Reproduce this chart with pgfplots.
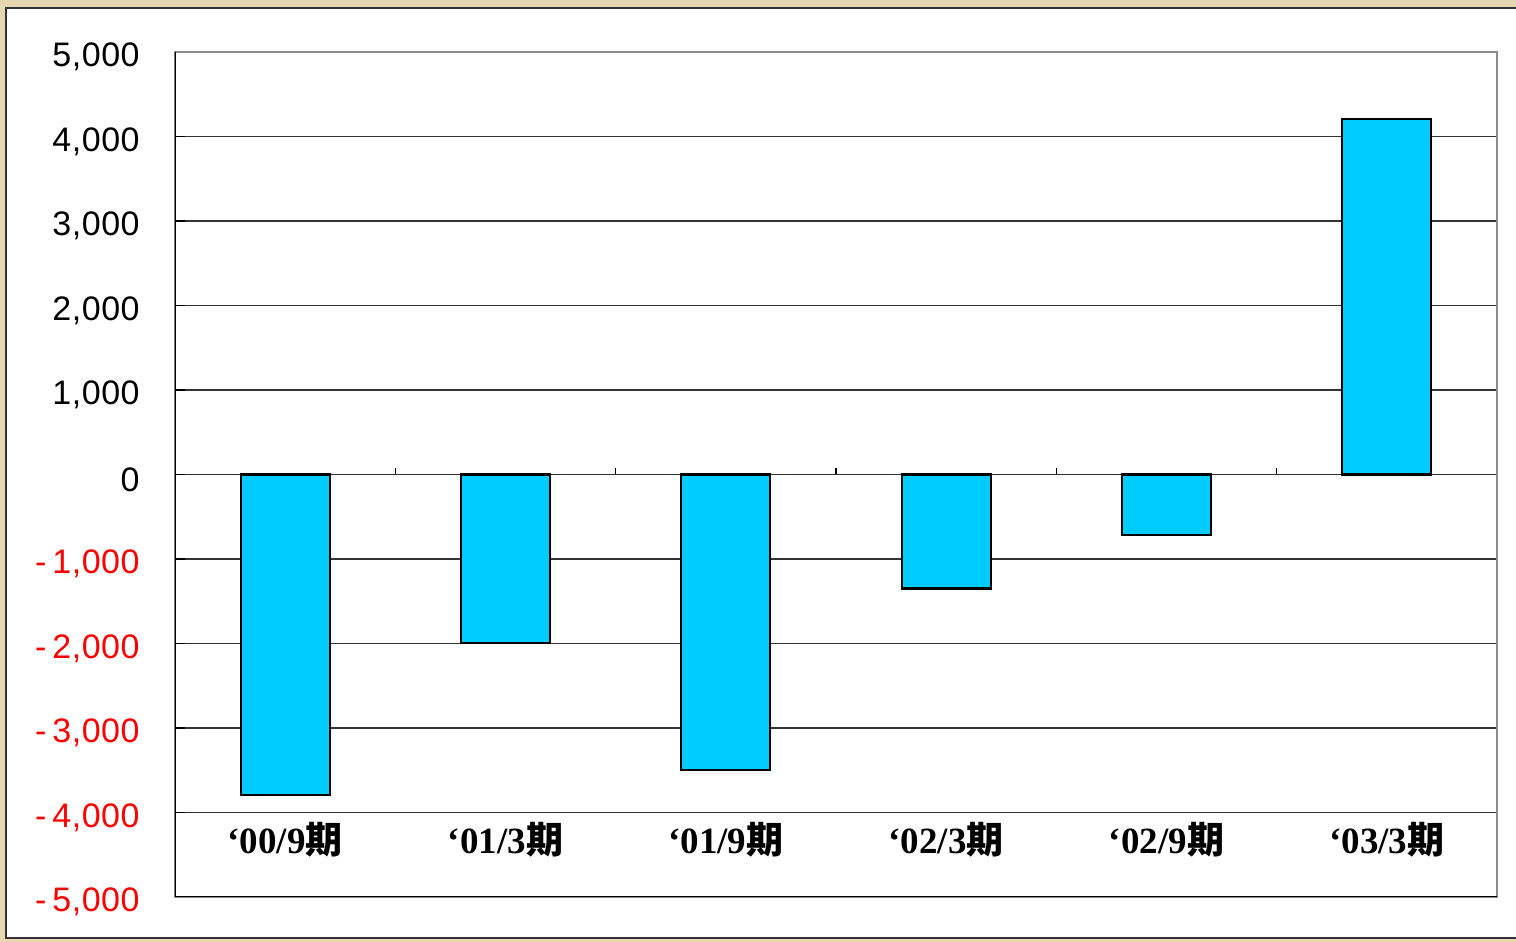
\documentclass[border=0pt]{standalone}
\usepackage{pgfplots}
\pgfplotsset{compat=1.18}
\usepackage{fontspec}
\setmainfont{Liberation Serif}
\newfontfamily\arialf{Liberation Sans}
\newfontfamily\cjk{Noto Sans CJK JP}
\definecolor{barblue}{HTML}{00CCFF}
\definecolor{beige}{HTML}{E6D6B2}
\newcommand{\lab}[1]{\bfseries ‘#1{\cjk\bfseries 期}}
\newcommand{\negl}[1]{\textcolor{red}{-\hspace{0.18em}#1}}
\begin{document}
\begin{tikzpicture}[x=1pt,y=1pt]
\clip (-87.5,-22.5) rectangle (670.5,448.5);
\fill[beige] (-87.5,-22.5) rectangle (670.5,448.5);
\filldraw[fill=white, draw=black!80, line width=1pt] (-84.5,-20.5) rectangle (690,444.5);
\begin{axis}[
  at={(0,0)}, anchor=south west, scale only axis,
  width=661pt, height=422.5pt,
  xmin=-0.5, xmax=5.5, ymin=-5000, ymax=5000,
  ytick={-5000,-4000,...,5000},
  yticklabels={{\negl{5,000}},{\negl{4,000}},{\negl{3,000}},{\negl{2,000}},{\negl{1,000}},{0},{1,000},{2,000},{3,000},{4,000},{5,000}},
  xtick={0,...,5},
  xticklabels={{\lab{00/9}},{\lab{01/3}},{\lab{01/9}},{\lab{02/3}},{\lab{02/9}},{\lab{03/3}}},
  xtick style={draw=none},
  ytick style={black, line width=0.8pt},
  major tick length=5pt,
  tick pos=left,
  tick align=inside,
  ymajorgrids,
  grid style={black!80, line width=0.6pt},
  axis line style={draw=black!45, line width=1pt},
  ybar, bar width=44.5pt, bar shift=0pt,
  xticklabel style={font=\fontsize{18.5}{18.5}\selectfont, anchor=center, yshift=33.5pt},
  yticklabel style={font=\arialf\fontsize{17}{17}\selectfont\addfontfeatures{LetterSpace=1.5}, anchor=east, inner sep=0pt, xshift=-17.5pt, yshift=-2.5pt},
]
\addplot[fill=barblue, draw=black, line width=1.1pt] coordinates {(0,-3790) (1,-1990) (2,-3500) (3,-1350) (4,-720) (5,4210)};
\draw[black, line width=1pt] (rel axis cs:0,0) -- (rel axis cs:0,1);
\draw[black, line width=1pt] (rel axis cs:0,0) -- (rel axis cs:1,0);
\draw[black, line width=0.6pt] (axis cs:0.5,0) -- ++(0pt,3pt);
\draw[black, line width=0.6pt] (axis cs:1.5,0) -- ++(0pt,3pt);
\draw[black, line width=0.6pt] (axis cs:2.5,0) -- ++(0pt,3pt);
\draw[black, line width=0.6pt] (axis cs:3.5,0) -- ++(0pt,3pt);
\draw[black, line width=0.6pt] (axis cs:4.5,0) -- ++(0pt,3pt);
\end{axis}
\end{tikzpicture}
\end{document}
